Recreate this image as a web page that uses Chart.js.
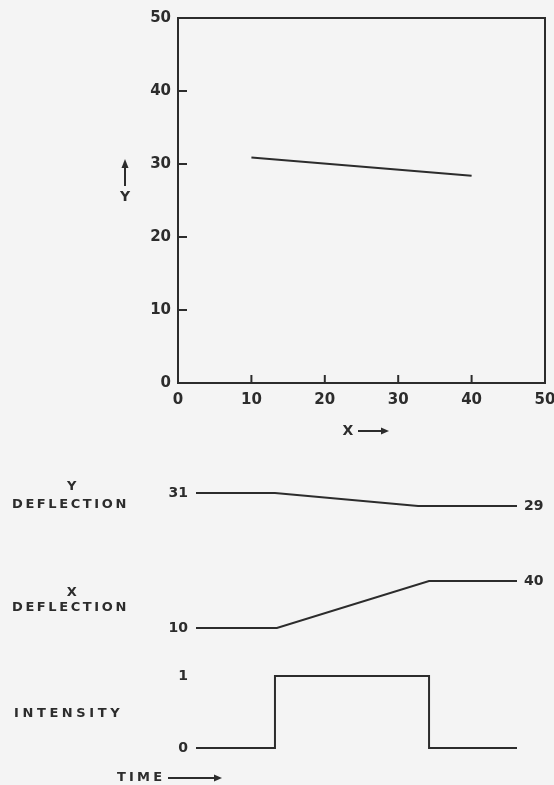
<!DOCTYPE html>
<html><head><meta charset="utf-8">
<script src="https://cdn.jsdelivr.net/npm/chart.js@4.4.1/dist/chart.umd.min.js"></script>
<style>
html,body{margin:0;padding:0;background:#f4f4f4;width:554px;height:785px;overflow:hidden}
#c1{position:absolute;left:0;top:0}
#c2{position:absolute;left:0;top:460px}
</style></head><body>
<canvas id="c1" width="590" height="460"></canvas>
<canvas id="c2" width="554" height="325"></canvas>
<script>
// ---- top X/Y plot ----
const axisTicks = [0, 10, 20, 30, 40, 50];
const traceX = [10, 40];
const traceY = [30.9, 28.4];
const xTitle = 'X';
const yTitle = 'Y';

// ---- timing diagram ----
const yDefTime = [0, 24.6, 69.2, 100];
const yDefValues = [31, 31, 29, 29];
const xDefTime = [0, 25.2, 72.6, 100];
const xDefValues = [10, 10, 40, 40];
const intTime = [0, 24.6, 72.6, 100];
const intValues = [0, 1, 0, 0];
const rowNames = ['Y DEFLECTION', 'X DEFLECTION', 'INTENSITY'];
const leftLabels = [[31], [10], [1, 0]];
const rightLabels = [[29], [40], []];
const timeLabel = 'TIME';

const INK = '#2c2c2c';
const FONT = "'DejaVu Sans', 'Liberation Sans', sans-serif";

function arrowRight(ctx, x1, x2, y) {
  ctx.beginPath(); ctx.moveTo(x1, y); ctx.lineTo(x2 - 6, y); ctx.stroke();
  ctx.beginPath(); ctx.moveTo(x2, y); ctx.lineTo(x2 - 8, y - 3.5); ctx.lineTo(x2 - 8, y + 3.5); ctx.closePath(); ctx.fill();
}
function arrowUp(ctx, x, y1, y2) {
  ctx.beginPath(); ctx.moveTo(x, y1); ctx.lineTo(x, y2 + 6); ctx.stroke();
  ctx.beginPath(); ctx.moveTo(x, y2); ctx.lineTo(x - 3.5, y2 + 9); ctx.lineTo(x + 3.5, y2 + 9); ctx.closePath(); ctx.fill();
}

const framePlugin = {
  id: 'frame',
  afterDraw(chart) {
    const ctx = chart.ctx, a = chart.chartArea;
    const xs = chart.scales.x, ys = chart.scales.y;
    ctx.save();
    ctx.strokeStyle = INK; ctx.fillStyle = INK; ctx.lineWidth = 2;
    ctx.strokeRect(a.left, a.top, a.right - a.left, a.bottom - a.top);
    axisTicks.forEach(v => {
      if (v === axisTicks[0] || v === axisTicks[axisTicks.length - 1]) return;
      const py = ys.getPixelForValue(v);
      ctx.beginPath(); ctx.moveTo(a.left, py); ctx.lineTo(a.left + 9, py); ctx.stroke();
      const px = xs.getPixelForValue(v);
      ctx.beginPath(); ctx.moveTo(px, a.bottom); ctx.lineTo(px, a.bottom - 8); ctx.stroke();
    });
    // axis titles with arrows
    ctx.font = 'bold 14px ' + FONT;
    ctx.textAlign = 'center'; ctx.textBaseline = 'middle';
    ctx.fillText(yTitle, 125, 197);
    ctx.lineWidth = 2;
    arrowUp(ctx, 125, 186, 159);
    ctx.fillText(xTitle, 348, 431);
    arrowRight(ctx, 358, 389, 431);
    ctx.restore();
  }
};

const tickFont = { family: FONT, size: 15, weight: 'bold' };

new Chart(document.getElementById('c1'), {
  type: 'scatter',
  data: { datasets: [{
    data: traceX.map((x, i) => ({ x, y: traceY[i] })),
    showLine: true, borderColor: INK, borderWidth: 2, pointRadius: 0, fill: false
  }] },
  options: {
    responsive: false, animation: false,
    plugins: { legend: { display: false }, tooltip: { enabled: false } },
    layout: { padding: { left: 0, right: 45, top: 18, bottom: 0 } },
    scales: {
      x: {
        type: 'linear', min: axisTicks[0], max: axisTicks[axisTicks.length - 1],
        afterBuildTicks: s => { s.ticks = axisTicks.map(v => ({ value: v })); },
        grid: { display: false, drawTicks: false }, border: { display: false },
        ticks: { color: INK, font: tickFont, padding: 8, maxRotation: 0, autoSkip: false },
        afterFit: s => { s.height = 77; }
      },
      y: {
        type: 'linear', min: axisTicks[0], max: axisTicks[axisTicks.length - 1],
        afterBuildTicks: s => { s.ticks = axisTicks.map(v => ({ value: v })); },
        grid: { display: false, drawTicks: false }, border: { display: false },
        ticks: { color: INK, font: tickFont, padding: 7, autoSkip: false },
        afterFit: s => { s.width = 178; }
      }
    }
  },
  plugins: [framePlugin]
});

// ---- timing diagram ----
const timingPlugin = {
  id: 'timing',
  afterDraw(chart) {
    const ctx = chart.ctx;
    ctx.save();
    ctx.fillStyle = INK; ctx.strokeStyle = INK;
    ctx.font = 'bold 14px ' + FONT;
    ctx.textBaseline = 'middle';
    chart.data.datasets.forEach((ds, i) => {
      const meta = chart.getDatasetMeta(i);
      const scale = chart.scales[ds.yAxisID];
      const first = meta.data[0], last = meta.data[meta.data.length - 1];
      ctx.textAlign = 'right';
      leftLabels[i].forEach(v => ctx.fillText(String(v), first.x - 8, scale.getPixelForValue(v)));
      ctx.textAlign = 'left';
      rightLabels[i].forEach(v => ctx.fillText(String(v), last.x + 7, scale.getPixelForValue(v)));
    });
    // row names
    ctx.font = 'bold 13px ' + FONT;
    ctx.letterSpacing = '2.6px';
    ctx.textAlign = 'center';
    ctx.fillText('Y', 73, 27);
    ctx.textAlign = 'left';
    ctx.fillText('DEFLECTION', 12, 45);
    ctx.textAlign = 'center';
    ctx.fillText('X', 73, 133);
    ctx.textAlign = 'left';
    ctx.fillText('DEFLECTION', 12, 148);
    ctx.letterSpacing = '3.6px';
    ctx.fillText(rowNames[2], 14, 254);
    ctx.letterSpacing = '3.2px';
    ctx.fillText(timeLabel, 117, 318);
    ctx.letterSpacing = '0px';
    ctx.lineWidth = 2;
    arrowRight(ctx, 168, 222, 318);
    ctx.restore();
  }
};

const lineStyle = { showLine: true, borderColor: INK, borderWidth: 2, pointRadius: 0, fill: false, clip: false };

new Chart(document.getElementById('c2'), {
  type: 'scatter',
  data: { datasets: [
    Object.assign({ label: rowNames[0], yAxisID: 'yDef', data: yDefTime.map((t, i) => ({ x: t, y: yDefValues[i] })) }, lineStyle),
    Object.assign({ label: rowNames[1], yAxisID: 'xDef', data: xDefTime.map((t, i) => ({ x: t, y: xDefValues[i] })) }, lineStyle),
    Object.assign({ label: rowNames[2], yAxisID: 'int', stepped: 'before', data: intTime.map((t, i) => ({ x: t, y: intValues[i] })) }, lineStyle)
  ] },
  options: {
    responsive: false, animation: false,
    plugins: { legend: { display: false }, tooltip: { enabled: false } },
    layout: { padding: { left: 196, right: 37, top: 10, bottom: 15 } },
    scales: {
      x: { type: 'linear', min: 0, max: 100, display: false },
      yDef: { type: 'linear', position: 'left', min: -11.6, max: 34.54, display: false },
      xDef: { type: 'linear', position: 'left', min: -80.64, max: 110.85, display: false },
      int: { type: 'linear', position: 'left', min: -0.3056, max: 3.861, display: false }
    }
  },
  plugins: [timingPlugin]
});
</script>
</body></html>
